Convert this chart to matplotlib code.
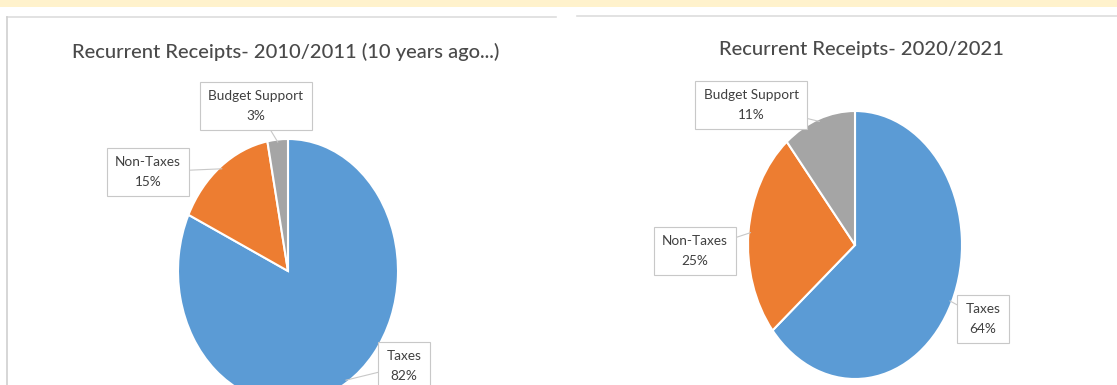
import matplotlib
matplotlib.use("Agg")
import matplotlib.pyplot as plt
import numpy as np

W, H = 1117, 385

categories = ["Taxes", "Non-Taxes", "Budget Support"]
values_2010 = [82, 15, 3]
values_2020 = [64, 25, 11]
titles = ["Recurrent Receipts- 2010/2011 (10 years ago...)", "Recurrent Receipts- 2020/2021"]
colors = ["#5B9BD5", "#ED7D31", "#A5A5A5"]

plt.rcParams['font.family'] = ['Lato', 'DejaVu Sans']

fig = plt.figure(figsize=(W / 100, H / 100), dpi=100)
fig.patch.set_facecolor("white")

def px_axes(x0, y0, w, h):
    # pixel box with top-left origin -> figure fraction
    return fig.add_axes([x0 / W, 1 - (y0 + h) / H, w / W, h / H])

# background strip and panel borders
bg = fig.add_axes([0, 0, 1, 1], zorder=-10)
bg.set_xlim(0, W); bg.set_ylim(H, 0); bg.axis("off")
bg.add_patch(plt.Rectangle((0, 0), W, 7, color="#FFF2CC", lw=0))
bg.plot([7, 556], [17, 17], color="#DDDDDD", lw=1.2)
bg.plot([7, 7], [17, H], color="#D0D0D0", lw=1.2)
bg.plot([577, W], [15.5, 15.5], color="#DDDDDD", lw=1.2)

panels = [
    dict(vals=values_2010, title=titles[0], cx=288, cy=271, rx=110, ry=132, tx=286, ty=52,
         labels=[(404, 366), (148, 172), (256, 106)]),
    dict(vals=values_2020, title=titles[1], cx=855, cy=245, rx=107, ry=134, tx=861, ty=50,
         labels=[(983, 319), (695, 251), (751, 105)]),
]

for p in panels:
    ax = px_axes(p["cx"] - p["rx"], p["cy"] - p["ry"], 2 * p["rx"], 2 * p["ry"])
    wedges, _ = ax.pie(p["vals"], colors=colors, startangle=90, counterclock=False,
                       wedgeprops=dict(edgecolor="white", linewidth=1.5), radius=1)
    ax.set_xlim(-1, 1); ax.set_ylim(-1, 1); ax.set_aspect("auto"); ax.axis("off")
    ax.patch.set_alpha(0)
    fig.text(p["tx"] / W, 1 - p["ty"] / H, p["title"], ha="center", va="center",
             fontsize=14.5, color="#4A4A4A", fontweight="medium")
    for w, name, v, (lx, ly) in zip(wedges, categories, p["vals"], p["labels"]):
        ang = np.deg2rad((w.theta1 + w.theta2) / 2)
        xy = (np.cos(ang) * 0.98, np.sin(ang) * 0.98)
        ax.annotate(f"{name}\n{v}%", xy=xy, xycoords="data",
                    xytext=(lx / W, 1 - ly / H), textcoords="figure fraction",
                    ha="center", va="center", fontsize=9.8, color="#404040",
                    linespacing=1.75,
                    bbox=dict(boxstyle="square,pad=0.6", fc="white", ec="#C8C8C8", lw=0.8),
                    arrowprops=dict(arrowstyle="-", color="#C8C8C8", lw=0.8,
                                    shrinkA=0, shrinkB=0),
                    annotation_clip=False)

fig.savefig("out.png", dpi=100)
